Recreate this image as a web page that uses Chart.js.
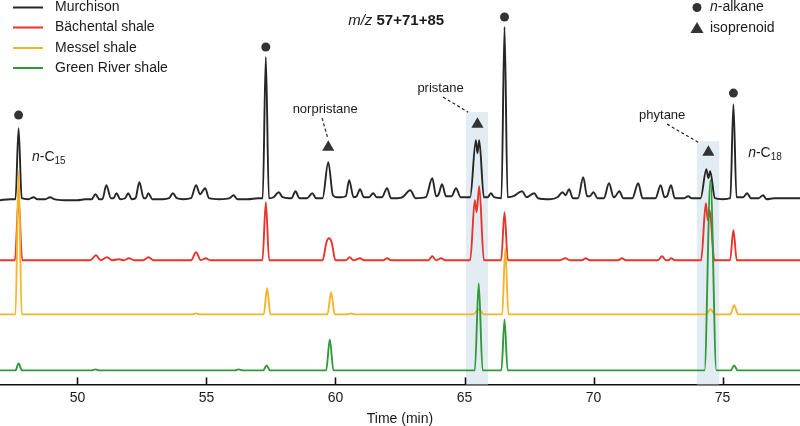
<!DOCTYPE html>
<html><head><meta charset="utf-8">
<script src="https://cdn.jsdelivr.net/npm/chart.js@4.4.1/dist/chart.umd.min.js"></script>
<style>html,body{margin:0;padding:0;background:#fff}#wrap{width:800px;height:426px;position:relative}</style>
</head><body><div id="wrap"><canvas id="c"></canvas></div>
<script>
// ---- data (time in min, signal in arbitrary units above each trace's baseline) ----
const seriesNames = ['Murchison', 'Bächental shale', 'Messel shale', 'Green River shale'];
const xTickValues = [50, 55, 60, 65, 70, 75];

const murchison = [
 [47.0,-1],[47.4,0],[47.6,0],[47.72,71],[47.84,1],[48.1,0],[48.3,2],[48.45,0],[48.75,0],[48.94,2],[49.1,0],[49.5,-1],[50.0,-1],
 [50.3,0],[50.55,0],[50.7,5],[50.85,0],[50.97,0],[51.12,14],[51.3,1],[51.4,1],[51.52,6],[51.65,0],[51.85,1],[51.97,6],[52.1,0],
 [52.25,1],[52.4,17],[52.57,1],[52.65,1],[52.75,6],[52.9,0],[53.3,0],[53.55,1],[53.7,6],[53.85,1],[54.1,0],[54.4,1],[54.6,14],
 [54.75,5],[54.95,11],[55.1,1],[55.5,0],[55.9,1],[56.05,4],[56.2,0],[56.6,0],[57.0,1],[57.18,1],[57.3,142],[57.42,1],[57.6,2],
 [57.8,7],[57.95,2],[58.2,1],[58.3,1],[58.45,8],[58.6,1],[58.9,1],[59.1,6],[59.25,1],[59.5,1],[59.72,37],[59.9,4],[60.05,2],
 [60.2,2],[60.4,3],[60.53,19],[60.7,2],[60.82,3],[60.95,10],[61.1,2],[61.3,2],[61.46,6],[61.6,2],[61.8,2],[62.0,11],[62.15,1],
 [62.4,1],[62.6,2],[62.9,9],[63.1,1],[63.5,2],[63.75,21],[63.9,3],[64.0,5],[64.13,15],[64.28,3],[64.5,3],[64.67,11],[64.85,2],
 [65.22,2],[65.44,59],[65.5,46],[65.57,59],[65.75,2],[65.9,2],[66.02,6],[66.15,2],[66.43,1],[66.55,172],[66.67,2],[66.9,3],
 [67.23,8],[67.4,2],[67.7,6],[67.85,1],[68.3,0],[68.6,2],[68.8,7],[68.92,4],[69.05,10],[69.2,1],[69.4,1],[69.6,22],[69.75,3],
 [69.85,3],[70.0,7],[70.15,1],[70.4,1],[70.6,16],[70.78,2],[70.85,3],[71.0,8],[71.15,1],[71.5,1],[71.73,16],[71.9,1],[72.4,1],
 [72.6,14],[72.75,2],[72.85,3],[73.0,14],[73.15,1],[73.5,1],[73.67,3],[73.8,1],[74.15,1],[74.37,30],[74.45,21],[74.52,28],
 [74.7,1],[75.0,0],[75.3,1],[75.42,95],[75.54,2],[75.8,2],[75.95,6],[76.1,1],[76.4,1],[76.57,4],[76.7,0],[77.0,1],[77.3,1],
 [77.6,1],[78.0,1]
];
const bachental = [
 [47.0,0],[47.58,0],[47.72,62],[47.86,0],[48.5,0],[50.5,0],[50.72,5],[50.9,0],[51.15,3],[51.35,0],[51.6,1],[51.8,0],[52.0,2],
 [52.2,0],[52.55,0],[52.75,3],[52.95,0],[54.4,0],[54.6,8],[54.78,0],[54.97,2],[55.15,0],[57.17,0],[57.3,58],[57.43,0],[59.5,0],
 [59.65,18],[59.75,22],[59.85,18],[60.0,0],[60.4,0],[60.55,3],[60.7,0],[60.95,2],[61.1,0],[61.85,0],[62.0,2],[62.15,0],[63.6,0],
 [63.75,4],[63.9,0],[64.1,2],[64.25,0],[65.22,0],[65.4,60],[65.47,48],[65.57,74],[65.75,0],[66.42,0],[66.55,48],[66.68,0],
 [68.7,0],[68.9,2],[69.1,0],[69.55,0],[69.7,2],[69.85,0],[70.95,0],[71.1,2],[71.25,0],[72.5,0],[72.65,4],[72.8,0],[72.9,0],
 [73.0,2],[73.15,0],[74.17,0],[74.35,57],[74.43,40],[74.5,50],[74.68,0],[75.29,0],[75.42,30],[75.55,0],[78.0,0]
];
const messel = [
 [47.0,0],[47.6,0],[47.72,143],[47.84,0],[54.45,0],[54.6,1],[54.75,0],[57.22,0],[57.35,26],[57.48,0],[59.69,0],[59.83,22],
 [59.97,0],[60.45,0],[60.6,1],[60.75,0],[65.35,0],[65.55,5],[65.75,0],[66.46,0],[66.58,66],[66.7,0],[74.35,0],[74.53,5],
 [74.7,0],[75.3,0],[75.45,9],[75.6,0],[78.0,0]
];
const greenRiver = [
 [47.0,0],[47.6,0],[47.72,7],[47.85,0],[50.55,0],[50.7,1],[50.85,0],[56.1,0],[56.25,1],[56.4,0],[57.2,0],[57.33,5],[57.46,0],
 [59.64,0],[59.78,31],[59.92,0],[65.4,0],[65.55,87],[65.7,0],[66.43,0],[66.55,51],[66.67,0],[74.3,0],[74.53,190],[74.76,0],
 [75.32,0],[75.45,5],[75.58,0],[78.0,0]
];
// compound markers (on Murchison trace scale)
const alkaneMarks = [[47.72,84],[57.3,152],[66.55,182],[75.42,106]];
const isoprenoidMarks = [[59.72,52],[65.5,75],[74.45,47]];
// highlighted retention windows: [start, end, top]
const highlights = [[65.06,65.91,87],[74.0,74.87,58]];

// ---- chart ----
const FONT = '"Liberation Sans", Arial, Helvetica, sans-serif';
Chart.defaults.font.family = FONT;
Chart.defaults.color = '#1a1a1a';
const colors = ['#262626', '#e8342b', '#f6b42a', '#2f9a38'];
const axisIds = ['yM', 'yB', 'yMe', 'yG'];
const traces = [murchison, bachental, messel, greenRiver];
const toXY = arr => arr.map(p => ({x: p[0], y: p[1]}));

const lineSets = traces.map((tr, i) => ({
  type: 'line', label: seriesNames[i], data: toXY(tr), yAxisID: axisIds[i],
  borderColor: colors[i], backgroundColor: colors[i], borderWidth: 1.9,
  pointRadius: 0, cubicInterpolationMode: 'monotone', order: 4 - i, fill: false
}));
const markerSets = [
  {type: 'scatter', label: 'n-alkane', data: toXY(alkaneMarks), yAxisID: 'yM', pointStyle: 'circle',
   pointRadius: 4.5, backgroundColor: '#333', borderColor: '#333', borderWidth: 0, order: 0},
  {type: 'scatter', label: 'isoprenoid', data: toXY(isoprenoidMarks), yAxisID: 'yM', pointStyle: 'triangle',
   pointRadius: 7, backgroundColor: '#333', borderColor: '#333', borderWidth: 0, order: 0}
];

const highlightPlugin = {
  id: 'highlights',
  beforeDatasetsDraw(chart) {
    const {ctx, chartArea} = chart, x = chart.scales.x, y = chart.scales.yM;
    ctx.save(); ctx.fillStyle = '#e3ebf3';
    highlights.forEach(h => {
      const x0 = x.getPixelForValue(h[0]), x1 = x.getPixelForValue(h[1]), y0 = y.getPixelForValue(h[2]);
      ctx.fillRect(x0, y0, x1 - x0, chartArea.bottom - y0);
    });
    ctx.restore();
  }
};

const annotations = [
  {text: 'norpristane', t: 59.6, v: 90, line: [59.48, 81, 59.71, 60]},
  {text: 'pristane', t: 64.07, v: 111, line: [64.17, 102, 65.14, 87]},
  {text: 'phytane', t: 72.66, v: 84, line: [72.85, 75, 74.05, 57]}
];

const decoPlugin = {
  id: 'deco',
  afterDatasetsDraw(chart) {
    const {ctx, chartArea} = chart, x = chart.scales.x, y = chart.scales.yM;
    ctx.save();
    // inward tick marks
    ctx.strokeStyle = '#111'; ctx.lineWidth = 1.6;
    x.ticks.forEach(tk => {
      const px = Math.round(x.getPixelForValue(tk.value)) + 0.5;
      ctx.beginPath(); ctx.moveTo(px, chartArea.bottom); ctx.lineTo(px, chartArea.bottom - 7); ctx.stroke();
    });
    // annotation labels with dashed leaders
    ctx.fillStyle = '#1a1a1a'; ctx.textBaseline = 'middle'; ctx.textAlign = 'center';
    ctx.font = '13px ' + FONT;
    annotations.forEach(a => {
      ctx.fillText(a.text, x.getPixelForValue(a.t), y.getPixelForValue(a.v));
      ctx.setLineDash([3, 2.5]); ctx.lineWidth = 1.2; ctx.strokeStyle = '#222';
      ctx.beginPath();
      ctx.moveTo(x.getPixelForValue(a.line[0]), y.getPixelForValue(a.line[1]));
      ctx.lineTo(x.getPixelForValue(a.line[2]), y.getPixelForValue(a.line[3]));
      ctx.stroke(); ctx.setLineDash([]);
    });
    // n-C15 / n-C18 labels
    ctx.textAlign = 'left';
    const carbonLabel = (num, t, v) => {
      let px = x.getPixelForValue(t); const py = y.getPixelForValue(v);
      ctx.font = 'italic 14px ' + FONT; ctx.fillText('n', px, py); px += ctx.measureText('n').width;
      ctx.font = '14px ' + FONT; ctx.fillText('-C', px, py); px += ctx.measureText('-C').width;
      ctx.font = '10px ' + FONT; ctx.fillText(num, px, py + 4);
    };
    carbonLabel('15', 48.24, 42);
    carbonLabel('18', 75.99, 46);
    // m/z title
    {
      ctx.font = 'italic 15px ' + FONT; const w1 = ctx.measureText('m/z ').width;
      ctx.font = 'bold 15px ' + FONT; const w2 = ctx.measureText('57+71+85').width;
      let px = x.getPixelForValue(62.35) - (w1 + w2) / 2; const py = y.getPixelForValue(178);
      ctx.font = 'italic 15px ' + FONT; ctx.fillText('m/z ', px, py);
      ctx.font = 'bold 15px ' + FONT; ctx.fillText('57+71+85', px + w1, py);
    }
    // series legend (top-left)
    ctx.font = '14px ' + FONT;
    const rows = [7.5, 27.5, 48, 68];
    chart.data.datasets.filter(d => d.type === 'line').forEach((d, i) => {
      const ly = chartArea.top + rows[i];
      ctx.strokeStyle = d.borderColor; ctx.lineWidth = 2;
      ctx.beginPath(); ctx.moveTo(chartArea.left + 13, ly); ctx.lineTo(chartArea.left + 43, ly); ctx.stroke();
      ctx.fillStyle = '#1a1a1a'; ctx.fillText(d.label, chartArea.left + 55, ly);
    });
    // marker legend (top-right)
    const mx = chartArea.right - 103, tx = chartArea.right - 90;
    ctx.fillStyle = '#333';
    ctx.beginPath(); ctx.arc(mx, chartArea.top + 7.5, 4.5, 0, Math.PI * 2); ctx.fill();
    ctx.beginPath();
    ctx.moveTo(mx, chartArea.top + 22); ctx.lineTo(mx + 6.5, chartArea.top + 33); ctx.lineTo(mx - 6.5, chartArea.top + 33);
    ctx.closePath(); ctx.fill();
    ctx.fillStyle = '#1a1a1a';
    ctx.font = 'italic 14px ' + FONT; ctx.fillText('n', tx, chartArea.top + 7.5);
    const wn = ctx.measureText('n').width;
    ctx.font = '14px ' + FONT; ctx.fillText('-alkane', tx + wn, chartArea.top + 7.5);
    ctx.fillText('isoprenoid', tx, chartArea.top + 28.5);
    ctx.restore();
  }
};

const yAxis = (min, max) => ({type: 'linear', display: false, min, max});

new Chart(document.getElementById('c'), {
  type: 'line',
  data: {datasets: [...lineSets, ...markerSets]},
  options: {
    responsive: true, maintainAspectRatio: false, animation: false,
    layout: {autoPadding: false, padding: {top: 0, left: 0, right: 0, bottom: -2}},
    plugins: {legend: {display: false}, tooltip: {enabled: false}},
    scales: {
      x: {
        type: 'linear', min: 47, max: 78,
        afterBuildTicks: s => { s.ticks = xTickValues.map(v => ({value: v})); },
        grid: {display: true, drawOnChartArea: false, drawTicks: false},
        border: {display: true, color: '#111', width: 1.6},
        ticks: {padding: 5, color: '#1a1a1a', font: {size: 14}},
        title: {display: true, text: 'Time (min)', color: '#1a1a1a', font: {size: 14}, padding: {top: 0, bottom: 0}}
      },
      yM: yAxis(-185, 199),
      yB: yAxis(-124, 260),
      yMe: yAxis(-70, 314),
      yG: yAxis(-14, 370)
    }
  },
  plugins: [highlightPlugin, decoPlugin]
});
</script></body></html>
